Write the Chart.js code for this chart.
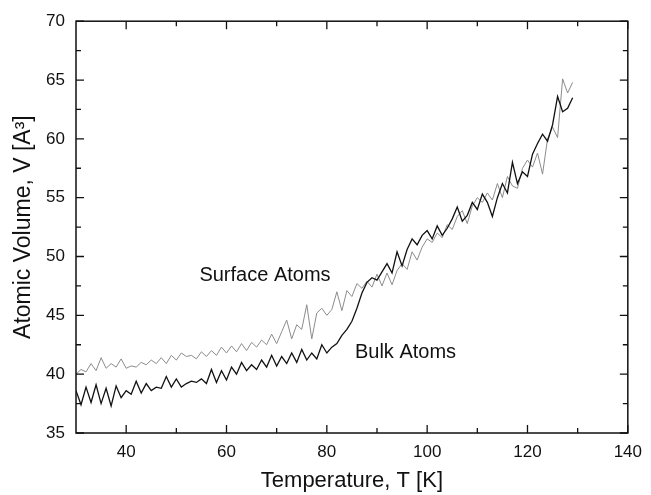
<!DOCTYPE html>
<html>
<head>
<meta charset="utf-8">
<script src="https://cdn.jsdelivr.net/npm/chart.js@4/dist/chart.umd.min.js"></script>
<style>
html,body{margin:0;padding:0;background:#fff;}
canvas{display:block;}
</style>
</head>
<body>
<canvas id="c" width="651" height="495"></canvas>
<script>
// Temperature T [K]
const temperature = [30,31,32,33,34,35,36,37,38,39,40,41,42,43,44,45,46,47,48,49,50,51,52,53,54,55,56,57,58,59,60,61,62,63,64,65,66,67,68,69,70,71,72,73,74,75,76,77,78,79,80,81,82,83,84,85,86,87,88,89,90,91,92,93,94,95,96,97,98,99,100,101,102,103,104,105,106,107,108,109,110,111,112,113,114,115,116,117,118,119,120,121,122,123,124,125,126,127,128,129];
// Bulk atoms volume
const bulkAtoms = [38.6,37.4,38.9,37.6,39.1,37.5,38.8,37.3,39.0,38.0,38.6,38.3,39.4,38.4,39.2,38.6,38.9,38.8,39.8,38.9,39.6,38.9,39.2,39.4,39.3,39.6,39.2,40.4,39.3,40.3,39.5,40.6,40.0,41.0,40.3,40.8,40.4,41.2,40.6,41.6,40.7,41.5,40.9,41.8,41.0,42.1,41.2,41.8,41.3,42.5,41.8,42.3,42.6,43.3,43.8,44.5,45.6,46.9,47.8,48.2,48.0,48.7,49.4,48.6,50.4,49.2,50.6,51.5,51.0,51.8,52.2,51.5,52.6,51.8,52.4,53.2,54.2,53.0,53.5,54.6,54.0,55.3,54.6,53.4,55.0,56.2,55.4,58.0,56.2,57.2,56.8,58.7,59.6,60.4,59.8,61.2,63.6,62.3,62.6,63.5];
// Surface atoms volume
const surfaceAtoms = [40.0,40.4,40.2,40.9,40.3,41.4,40.5,40.9,40.6,41.3,40.5,40.7,40.6,41.0,40.8,41.2,40.9,41.4,40.9,41.6,41.2,41.8,41.5,41.6,41.3,41.9,41.5,42.0,41.6,42.3,41.8,42.4,41.9,42.6,42.0,42.7,42.3,42.9,42.5,43.4,42.6,43.6,44.6,43.0,44.2,43.8,45.9,43.0,45.2,45.6,45.0,45.5,47.0,45.4,47.1,46.6,47.7,47.3,47.9,47.4,48.5,47.5,48.6,47.6,48.8,49.4,48.9,50.4,49.7,50.8,51.5,51.2,52.0,51.6,52.7,52.3,53.4,53.9,52.8,54.3,55.0,54.6,55.4,54.8,56.2,55.0,56.8,56.0,55.8,57.5,58.2,57.6,58.8,57.0,60.0,61.0,60.1,65.1,63.9,64.8];

const xTickLabels = [40,60,80,100,120,140];
const xMinorTicks = [50,70,90,110,130];
const yTickLabels = [35,40,45,50,55,60,65,70];
const yMinorTicks = [37.5,42.5,47.5,52.5,57.5,62.5,67.5];

const seriesLabels = [
  {text: 'Surface Atoms', x: 54.6, y: 47.95},
  {text: 'Bulk Atoms', x: 85.6, y: 41.35}
];

const FONT = '"Liberation Sans", Arial, sans-serif';

const framePlugin = {
  id: 'frame',
  afterDraw(chart) {
    const ctx = chart.ctx;
    const a = chart.chartArea;
    const xs = chart.scales.x, ys = chart.scales.y;
    ctx.save();
    ctx.strokeStyle = '#111';
    ctx.lineWidth = 1.5;
    ctx.strokeRect(a.left, a.top, a.right - a.left, a.bottom - a.top);
    ctx.lineWidth = 1.3;
    ctx.beginPath();
    const major = 8, minor = 5;
    xTickLabels.forEach(v => {
      const p = xs.getPixelForValue(v);
      ctx.moveTo(p, a.bottom); ctx.lineTo(p, a.bottom - major);
      ctx.moveTo(p, a.top); ctx.lineTo(p, a.top + major);
    });
    xMinorTicks.forEach(v => {
      const p = xs.getPixelForValue(v);
      ctx.moveTo(p, a.bottom); ctx.lineTo(p, a.bottom - minor);
      ctx.moveTo(p, a.top); ctx.lineTo(p, a.top + minor);
    });
    yTickLabels.forEach(v => {
      const p = ys.getPixelForValue(v);
      ctx.moveTo(a.left, p); ctx.lineTo(a.left + major, p);
      ctx.moveTo(a.right, p); ctx.lineTo(a.right - major, p);
    });
    yMinorTicks.forEach(v => {
      const p = ys.getPixelForValue(v);
      ctx.moveTo(a.left, p); ctx.lineTo(a.left + minor, p);
      ctx.moveTo(a.right, p); ctx.lineTo(a.right - minor, p);
    });
    ctx.stroke();
    ctx.fillStyle = '#111';
    ctx.font = '20px ' + FONT;
    ctx.textAlign = 'left';
    ctx.textBaseline = 'alphabetic';
    seriesLabels.forEach(l => {
      ctx.fillText(l.text, xs.getPixelForValue(l.x), ys.getPixelForValue(l.y));
    });
    ctx.restore();
  }
};

new Chart(document.getElementById('c'), {
  type: 'line',
  data: {
    datasets: [
      {
        label: 'Bulk Atoms',
        data: temperature.map((t, i) => ({x: t, y: bulkAtoms[i]})),
        borderColor: '#111',
        borderWidth: 1.3,
        pointRadius: 0,
        tension: 0,
        order: 1
      },
      {
        label: 'Surface Atoms',
        data: temperature.map((t, i) => ({x: t, y: surfaceAtoms[i]})),
        borderColor: '#8c8c8c',
        borderWidth: 1,
        pointRadius: 0,
        tension: 0,
        order: 2
      }
    ]
  },
  options: {
    responsive: false,
    animation: false,
    devicePixelRatio: 1,
    layout: {padding: {top: 15, right: 18, left: 0, bottom: 0}},
    plugins: {legend: {display: false}, tooltip: {enabled: false}},
    scales: {
      x: {
        type: 'linear',
        min: 30, max: 140,
        afterBuildTicks: s => { s.ticks = xTickLabels.map(v => ({value: v})); },
        afterFit: s => { s.height = 62; },
        grid: {display: false, drawTicks: false},
        border: {display: false},
        ticks: {padding: 9, color: '#111', font: {family: FONT, size: 17}, maxRotation: 0, autoSkip: false},
        title: {display: true, text: 'Temperature, T [K]', color: '#111', font: {family: FONT, size: 22}, padding: {top: 0, bottom: 1}}
      },
      y: {
        type: 'linear',
        min: 35, max: 70,
        afterBuildTicks: s => { s.ticks = yTickLabels.map(v => ({value: v})); },
        afterFit: s => { s.width = 76; },
        grid: {display: false, drawTicks: false},
        border: {display: false},
        ticks: {padding: 11, color: '#111', font: {family: FONT, size: 17}, autoSkip: false},
        title: {display: true, text: 'Atomic Volume, V [A³]', color: '#111', font: {family: FONT, size: 23}, padding: {top: 10, bottom: 0}}
      }
    }
  },
  plugins: [framePlugin]
});
</script>
</body>
</html>
